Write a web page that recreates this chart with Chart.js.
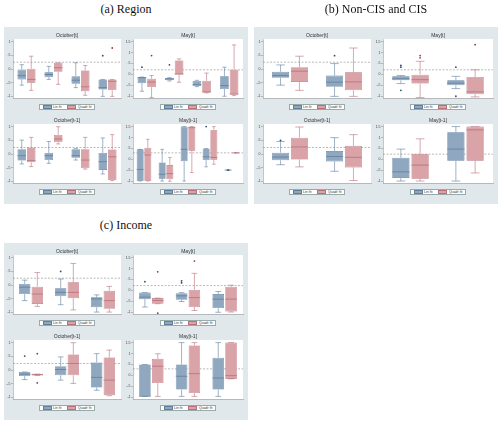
<!DOCTYPE html>
<html>
<head>
<meta charset="utf-8">
<script src="https://cdn.jsdelivr.net/npm/chart.js@4.4.1/dist/chart.umd.min.js"></script>
<style>
body { margin: 0; width: 500px; height: 422px; position: relative; overflow: hidden; background: #fff; font-family: "Liberation Sans", Arial, sans-serif; }
.ptitle { position: absolute; width: 244px; text-align: center; font-family: "Liberation Serif", "Times New Roman", serif; font-size: 12px; line-height: 14px; color: #111; }
.panel { position: absolute; width: 244px; height: 177px; background: #e1e8ec; }
.cell { position: absolute; height: 86px; }
.cell canvas { position: absolute; left: 0; top: 0; }
.stitle { position: absolute; top: 2px; text-align: center; font-size: 5px; line-height: 6px; color: #333; }
.legend { position: absolute; top: 74px; height: 6px; background: #fff; border: 0.5px solid #9aa; display: flex; align-items: center; justify-content: center; gap: 1.5px; font-size: 3.5px; color: #333; box-sizing: border-box; }
.sw { width: 9px; height: 3.5px; box-sizing: border-box; border: 0.5px solid; }
</style>
</head>
<body>
<script>
// tick labels
const octTickVals = [-1, -0.5, 0, 0.5, 1];
const octTickLabels = ["-1", "-.5", "0", ".5", "1"];
const mayTickVals = [-1, -0.5, 0, 0.5, 1, 1.5];
const mayTickLabels = ["-1", "-.5", "0", ".5", "1", "1.5"];
const subTitles = ["October[t]", "May[t]", "October[t-1]", "May[t-1]"];
const seriesNames = ["Lin fit", "Quadr fit"];

// rows: [lower whisker, q1, median, q3, upper whisker, [outliers]]
// (a) Region
const regCats = ["CEB", "SEE", "EEC", "CA"];
const regCats5 = ["CEB", "SEE", "EEC", "CA", "SEM"];
const regOctT_lin = [[-0.59, -0.38, -0.24, -0.02, 0.16], [-0.38, -0.30, -0.20, -0.12, 0.10], [-0.68, -0.54, -0.41, -0.26, 0.23], [-1.0, -0.75, -0.68, -0.38, -0.38, [0.49]]];
const regOctT_quad = [[-0.78, -0.50, -0.38, 0.01, 0.47], [-0.56, -0.10, 0.05, 0.23, 0.23], [-0.96, -0.81, -0.65, -0.05, 0.13], [-1.0, -0.77, -0.45, -0.38, -0.38, [0.77]]];
const regMayT_lin = [[-0.77, -0.40, -0.15, -0.12, -0.12, [0.33]], [-0.30, -0.27, -0.21, -0.17, -0.15, [0.44]], [-0.56, -0.53, -0.47, -0.30, -0.27], [-1.0, -0.67, -0.51, -0.09, 0.33]];
const regMayT_quad = [[-1.06, -0.58, -0.35, -0.20, -0.05, [0.86]], [-0.36, -0.01, 0.02, 0.64, 0.71], [-0.85, -0.83, -0.80, -0.29, 0.06], [-0.97, -0.92, -0.90, 0.21, 1.35]];
const regOctT1_lin = [[-0.36, -0.24, -0.06, 0.18, 0.51], [-0.34, -0.22, -0.06, 0.04, 0.46], [-0.22, -0.14, -0.06, 0.18, 0.20], [-0.73, -0.58, -0.28, 0.04, 0.59]];
const regOctT1_quad = [[-0.46, -0.30, -0.24, 0.24, 0.61], [0.37, 0.43, 0.55, 0.70, 1.0], [-0.55, -0.52, -0.22, 0.18, 0.61], [-0.97, -0.95, -0.10, 0.17, 0.71]];
const regMayT1_lin = [[-0.99, -0.99, -0.46, 0.46, 0.46], [-0.99, -0.88, -0.68, -0.14, 0.46], [-0.99, -0.08, 0.46, 1.5, 1.5], [-0.34, -0.03, 0.12, 0.50, 0.50, [1.5]], [-0.49, -0.49, -0.49, -0.49, -0.49, [-0.49]]];
const regMayT1_quad = [[-0.99, -0.99, 0.20, 0.53, 0.92], [-1.0, -0.91, -0.65, -0.26, 0.09], [-0.60, 0.40, 1.45, 1.5, 1.5], [-0.22, -0.03, 0.09, 1.35, 1.5], [0.3, 0.3, 0.3, 0.3, 0.3]];
const regRef = [0.25, 0.21, 0.24, 0.30];

// (b) Non-CIS and CIS
const cisCats = ["Non-CIS", "CIS"];
const cisOctT_lin = [[-0.59, -0.32, -0.24, -0.10, 0.15], [-1.0, -0.65, -0.48, -0.24, 0.20, [0.49]]];
const cisOctT_quad = [[-0.78, -0.47, -0.08, 0.07, 0.47], [-1.0, -0.78, -0.47, -0.12, 0.77]];
const cisMayT_lin = [[-0.42, -0.27, -0.20, -0.09, -0.05, [0.41, 0.33, -0.73]], [-0.65, -0.50, -0.40, -0.27, -0.09, [0.33, -1.0]]];
const cisMayT_quad = [[-1.06, -0.42, -0.24, 0.0, 0.60, [0.86, 0.76]], [-1.03, -0.91, -0.80, -0.12, 0.21, [1.36]]];
const cisOctT1_lin = [[-0.39, -0.23, -0.11, 0.05, 0.46, [0.5]], [-0.63, -0.27, -0.09, 0.11, 0.60]];
const cisOctT1_quad = [[-0.47, -0.20, 0.26, 0.60, 0.99], [-0.97, -0.49, -0.12, 0.30, 0.71]];
const cisMayT1_lin = [[-0.99, -0.85, -0.57, 0.07, 0.47], [-0.99, -0.06, 0.47, 1.24, 1.5]];
const cisMayT1_quad = [[-0.99, -0.88, -0.26, 0.23, 0.94], [-0.62, -0.06, 1.35, 1.5, 1.5]];
const cisRef = [0.25, 0.21, 0.24, 0.24];

// (c) Income
const incCats = ["Advanced", "Emerging", "Low-income"];
const incOctT_lin = [[-0.57, -0.33, -0.08, 0.04, 0.18], [-0.72, -0.41, -0.27, -0.12, 0.22, [0.5]], [-0.99, -0.81, -0.51, -0.45, -0.36]];
const incOctT_quad = [[-0.78, -0.69, -0.33, -0.06, 0.46], [-0.91, -0.48, -0.27, 0.10, 0.79], [-0.99, -0.87, -0.57, -0.21, -0.05]];
const incMayT_lin = [[-0.76, -0.40, -0.31, -0.10, -0.10, [0.4]], [-0.51, -0.43, -0.25, -0.13, -0.10, [0.44, 0.35]], [-1.0, -0.81, -0.40, -0.17, -0.05]];
const incMayT_quad = [[-0.61, -0.61, -0.46, -0.35, -0.35, [0.85, -1.04]], [-0.92, -0.76, -0.33, 0.02, 0.78, [1.34]], [-0.99, -0.96, -0.40, 0.17, 0.24]];
const incOctT1_lin = [[-0.35, -0.22, -0.15, -0.07, -0.07, [0.51]], [-0.37, -0.19, 0.02, 0.14, 0.48], [-0.74, -0.64, -0.27, 0.28, 0.60]];
const incOctT1_quad = [[-0.20, -0.20, -0.16, -0.15, -0.15, [0.6, -0.47]], [-0.49, -0.19, 0.24, 0.57, 1.0], [-0.94, -0.92, -0.37, 0.46, 0.73]];
const incMayT1_lin = [[-0.96, -0.96, -0.95, 0.50, 0.50], [-0.96, -0.65, -0.04, 0.50, 1.5], [-0.96, -0.65, -0.12, 0.81, 1.5]];
const incMayT1_quad = [[-0.96, -0.35, 0.42, 0.76, 0.99], [-0.96, -0.81, 0.08, 1.37, 1.5], [-0.16, -0.16, -0.01, 1.5, 1.5]];
const incRef = [0.25, 0.22, 0.24, 0.30];

const BLUE = "#8fa8c0", BLUE_EDGE = "#5f7f9e", BLUE_DOT = "#2e4d6e";
const RED = "#d9a3a8", RED_EDGE = "#b8707a", RED_DOT = "#8a3d48";

// whiskers, medians, outliers and the dashed reference line
const boxPlugin = {
    id: "boxParts",
    beforeDraw(chart) {
        const a = chart.chartArea, ctx = chart.ctx;
        ctx.save();
        ctx.fillStyle = "#fff";
        ctx.fillRect(a.left, a.top, a.right - a.left, a.bottom - a.top);
        ctx.restore();
    },
    beforeDatasetsDraw(chart) {
        const a = chart.chartArea, ctx = chart.ctx;
        const py = chart.scales.y.getPixelForValue(chart.options.plugins.boxParts.ref);
        ctx.save();
        ctx.strokeStyle = "#8c8c8c";
        ctx.lineWidth = 0.6;
        ctx.setLineDash([2, 1.5]);
        ctx.beginPath();
        ctx.moveTo(a.left, py);
        ctx.lineTo(a.right, py);
        ctx.stroke();
        ctx.restore();
    },
    afterDatasetsDraw(chart) {
        const ctx = chart.ctx, y = chart.scales.y;
        chart.data.datasets.forEach(function(ds, di) {
            const meta = chart.getDatasetMeta(di);
            meta.data.forEach(function(bar, i) {
                const r = ds.rows[i];
                if (!r) return;
                const x = bar.x, w = bar.width;
                const pLo = y.getPixelForValue(r[0]), pQ1 = y.getPixelForValue(r[1]);
                const pMed = y.getPixelForValue(r[2]), pQ3 = y.getPixelForValue(r[3]);
                const pHi = y.getPixelForValue(r[4]);
                ctx.save();
                ctx.strokeStyle = ds.borderColor;
                ctx.lineWidth = 0.6;
                ctx.beginPath();
                ctx.moveTo(x, pQ3); ctx.lineTo(x, pHi);
                ctx.moveTo(x, pQ1); ctx.lineTo(x, pLo);
                ctx.moveTo(x - w * 0.25, pHi); ctx.lineTo(x + w * 0.25, pHi);
                ctx.moveTo(x - w * 0.25, pLo); ctx.lineTo(x + w * 0.25, pLo);
                ctx.stroke();
                ctx.lineWidth = 0.8;
                ctx.beginPath();
                ctx.moveTo(x - w / 2, pMed); ctx.lineTo(x + w / 2, pMed);
                ctx.stroke();
                ctx.fillStyle = ds.dotColor;
                (r[5] || []).forEach(function(v) {
                    ctx.beginPath();
                    ctx.arc(x, y.getPixelForValue(v), 0.9, 0, Math.PI * 2);
                    ctx.fill();
                });
                ctx.restore();
            });
        });
    }
};

function makeChart(canvas, cats, lin, quad, isMay, ref, padRight) {
    const tv = isMay ? mayTickVals : octTickVals;
    const tl = isMay ? mayTickLabels : octTickLabels;
    const common = { borderWidth: 0.6, borderSkipped: false, categoryPercentage: 0.7, barPercentage: 0.9 };
    return new Chart(canvas, {
        type: "bar",
        data: {
            labels: cats,
            datasets: [
                Object.assign({ label: seriesNames[0], data: lin.map(r => [r[1], r[3]]), rows: lin,
                    backgroundColor: BLUE, borderColor: BLUE_EDGE, dotColor: BLUE_DOT }, common),
                Object.assign({ label: seriesNames[1], data: quad.map(r => [r[1], r[3]]), rows: quad,
                    backgroundColor: RED, borderColor: RED_EDGE, dotColor: RED_DOT }, common)
            ]
        },
        options: {
            responsive: false,
            animation: false,
            devicePixelRatio: 1,
            layout: { padding: { top: 9, right: padRight, bottom: 12, left: 0 } },
            plugins: { legend: { display: false }, tooltip: { enabled: false }, boxParts: { ref: ref } },
            scales: {
                x: {
                    grid: { display: false },
                    border: { color: "#8a8a8a", width: 0.5 },
                    ticks: { font: { size: 3.5 }, color: "#444", padding: 1, autoSkip: false, maxRotation: 0 },
                    afterFit: function(s) { s.height = 6; }
                },
                y: {
                    min: isMay ? -1.08 : -1.06,
                    max: isMay ? 1.62 : 1.1,
                    grid: { drawOnChartArea: false, tickLength: 2, color: "#8a8a8a", lineWidth: 0.5 },
                    border: { color: "#8a8a8a", width: 0.5 },
                    afterBuildTicks: function(s) { s.ticks = tv.map(v => ({ value: v })); },
                    ticks: { font: { size: 3.5 }, color: "#444", padding: 0.5, callback: v => tl[tv.indexOf(v)] },
                    afterFit: function(s) { s.width = 8; }
                }
            }
        },
        plugins: [boxPlugin]
    });
}

function buildPanel(left, top, titleText, titleTop, subs) {
    const t = document.createElement("div");
    t.className = "ptitle";
    t.style.left = left + "px";
    t.style.top = titleTop + "px";
    t.textContent = titleText;
    document.body.appendChild(t);

    const p = document.createElement("div");
    p.className = "panel";
    p.style.left = left + "px";
    p.style.top = top + "px";
    document.body.appendChild(p);

    subs.forEach(function(s, k) {
        const col = k % 2, row = Math.floor(k / 2);
        const cw = col ? 122 : 119, pr = col ? 4 : 3;
        const cell = document.createElement("div");
        cell.className = "cell";
        cell.style.left = (col ? 121 : 1) + "px";
        cell.style.top = (row ? 88 : 3) + "px";
        cell.style.width = cw + "px";
        p.appendChild(cell);

        const canvas = document.createElement("canvas");
        canvas.width = cw;
        canvas.height = 86;
        cell.appendChild(canvas);

        const st = document.createElement("div");
        st.className = "stitle";
        st.style.left = "8px";
        st.style.right = pr + "px";
        st.textContent = subTitles[k];
        cell.appendChild(st);

        const center = (8 + cw - pr) / 2;
        const lg = document.createElement("div");
        lg.className = "legend";
        lg.style.left = (center - 28) + "px";
        lg.style.width = "56px";
        lg.innerHTML = '<span class="sw" style="background:' + BLUE + ';border-color:' + BLUE_EDGE + '"></span><span>' + seriesNames[0] +
            '</span><span style="width:3px"></span><span class="sw" style="background:' + RED + ';border-color:' + RED_EDGE + '"></span><span>' + seriesNames[1] + '</span>';
        cell.appendChild(lg);

        makeChart(canvas, s.cats, s.lin, s.quad, k % 2 === 1, s.ref, pr);
    });
}

buildPanel(4, 27, "(a) Region", 2, [
    { cats: regCats, lin: regOctT_lin, quad: regOctT_quad, ref: regRef[0] },
    { cats: regCats, lin: regMayT_lin, quad: regMayT_quad, ref: regRef[1] },
    { cats: regCats, lin: regOctT1_lin, quad: regOctT1_quad, ref: regRef[2] },
    { cats: regCats5, lin: regMayT1_lin, quad: regMayT1_quad, ref: regRef[3] }
]);
buildPanel(254, 27, "(b) Non-CIS and CIS", 2, [
    { cats: cisCats, lin: cisOctT_lin, quad: cisOctT_quad, ref: cisRef[0] },
    { cats: cisCats, lin: cisMayT_lin, quad: cisMayT_quad, ref: cisRef[1] },
    { cats: cisCats, lin: cisOctT1_lin, quad: cisOctT1_quad, ref: cisRef[2] },
    { cats: cisCats, lin: cisMayT1_lin, quad: cisMayT1_quad, ref: cisRef[3] }
]);
buildPanel(4, 243, "(c) Income", 218, [
    { cats: incCats, lin: incOctT_lin, quad: incOctT_quad, ref: incRef[0] },
    { cats: incCats, lin: incMayT_lin, quad: incMayT_quad, ref: incRef[1] },
    { cats: incCats, lin: incOctT1_lin, quad: incOctT1_quad, ref: incRef[2] },
    { cats: incCats, lin: incMayT1_lin, quad: incMayT1_quad, ref: incRef[3] }
]);
</script>
</body>
</html>
